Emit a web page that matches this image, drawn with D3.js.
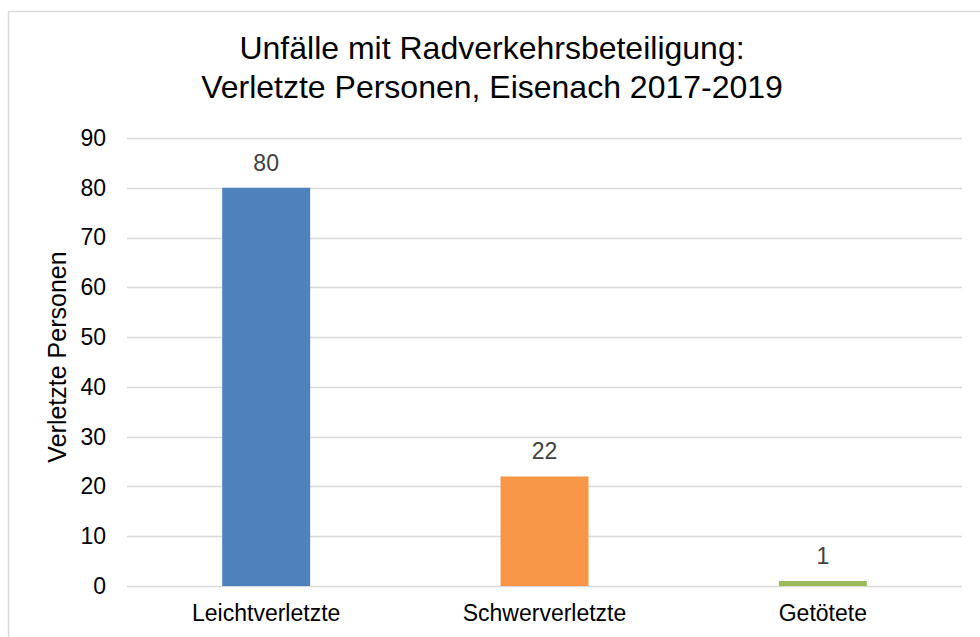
<!DOCTYPE html>
<html>
<head>
<meta charset="utf-8">
<script src="https://cdn.jsdelivr.net/npm/d3@7"></script>
<style>
  body { margin: 0; background: #fff; }
  text { font-family: "Liberation Sans", Arial, sans-serif; }
</style>
</head>
<body>
<div id="chart"></div>
<script>
// data
var categories = ["Leichtverletzte", "Schwerverletzte", "Getötete"];
var values = [80, 22, 1];
var barColors = ["#4f81bd", "#f79646", "#9bbb59"];
var yTicks = [0, 10, 20, 30, 40, 50, 60, 70, 80, 90];
var titleLines = ["Unfälle mit Radverkehrsbeteiligung:", "Verletzte Personen, Eisenach 2017-2019"];

var W = 980, H = 637;
var margin = {top: 138, right: 18, bottom: 51, left: 127};
var width = W - margin.left - margin.right;
var height = H - margin.top - margin.bottom;

var svg = d3.select("#chart").append("svg")
    .attr("width", W)
    .attr("height", H);

// chart frame
svg.append("rect")
    .attr("x", 8.5).attr("y", 11.5)
    .attr("width", 990).attr("height", 700)
    .attr("fill", "none")
    .attr("stroke", "#d9d9d9")
    .attr("stroke-width", 1.5);

// title
svg.append("text")
    .attr("text-anchor", "middle")
    .attr("font-size", 32)
    .attr("fill", "#000")
    .selectAll("tspan")
    .data(titleLines)
    .enter().append("tspan")
    .attr("x", 492)
    .attr("y", function(d, i){ return 59 + i * 39; })
    .text(function(d){ return d; });

var g = svg.append("g")
    .attr("transform", "translate(" + margin.left + "," + margin.top + ")");

var x = d3.scaleBand()
    .domain(categories)
    .range([0, width])
    .paddingInner(0.684)
    .paddingOuter(0.342);

var y = d3.scaleLinear()
    .domain([0, 90])
    .range([height, 0]);

// gridlines
g.selectAll(".grid")
    .data(yTicks)
    .enter().append("line")
    .attr("class", "grid")
    .attr("x1", 0).attr("x2", width)
    .attr("y1", function(d){ return Math.round(y(d)) + 0.5; })
    .attr("y2", function(d){ return Math.round(y(d)) + 0.5; })
    .attr("stroke", "#d9d9d9")
    .attr("stroke-width", 1.5);

// y axis labels
var yAxis = g.append("g")
    .call(d3.axisLeft(y).tickValues(yTicks).tickSize(0).tickPadding(21));
yAxis.select(".domain").remove();
yAxis.selectAll("text")
    .attr("font-size", 23)
    .attr("fill", "#000")
    .style("font-family", "'Liberation Sans', Arial, sans-serif");

// bars
g.selectAll(".bar")
    .data(values)
    .enter().append("rect")
    .attr("class", "bar")
    .attr("x", function(d, i){ return x(categories[i]); })
    .attr("width", x.bandwidth())
    .attr("y", function(d){ return y(d); })
    .attr("height", function(d){ return height - y(d); })
    .attr("fill", function(d, i){ return barColors[i]; });

// value labels
g.selectAll(".val")
    .data(values)
    .enter().append("text")
    .attr("class", "val")
    .attr("text-anchor", "middle")
    .attr("font-size", 23)
    .attr("fill", "#404040")
    .attr("x", function(d, i){ return x(categories[i]) + x.bandwidth() / 2; })
    .attr("y", function(d){ return y(d) - 17; })
    .text(function(d){ return d; });

// x axis labels
var xAxis = g.append("g")
    .attr("transform", "translate(0," + height + ")")
    .call(d3.axisBottom(x).tickSize(0).tickPadding(19));
xAxis.select(".domain").remove();
xAxis.selectAll("text")
    .attr("font-size", 23)
    .attr("fill", "#000")
    .style("font-family", "'Liberation Sans', Arial, sans-serif");

// y axis title
svg.append("text")
    .attr("transform", "translate(66," + (margin.top + height / 2 - 5) + ") rotate(-90)")
    .attr("text-anchor", "middle")
    .attr("font-size", 25)
    .attr("fill", "#000")
    .text("Verletzte Personen");
</script>
</body>
</html>
